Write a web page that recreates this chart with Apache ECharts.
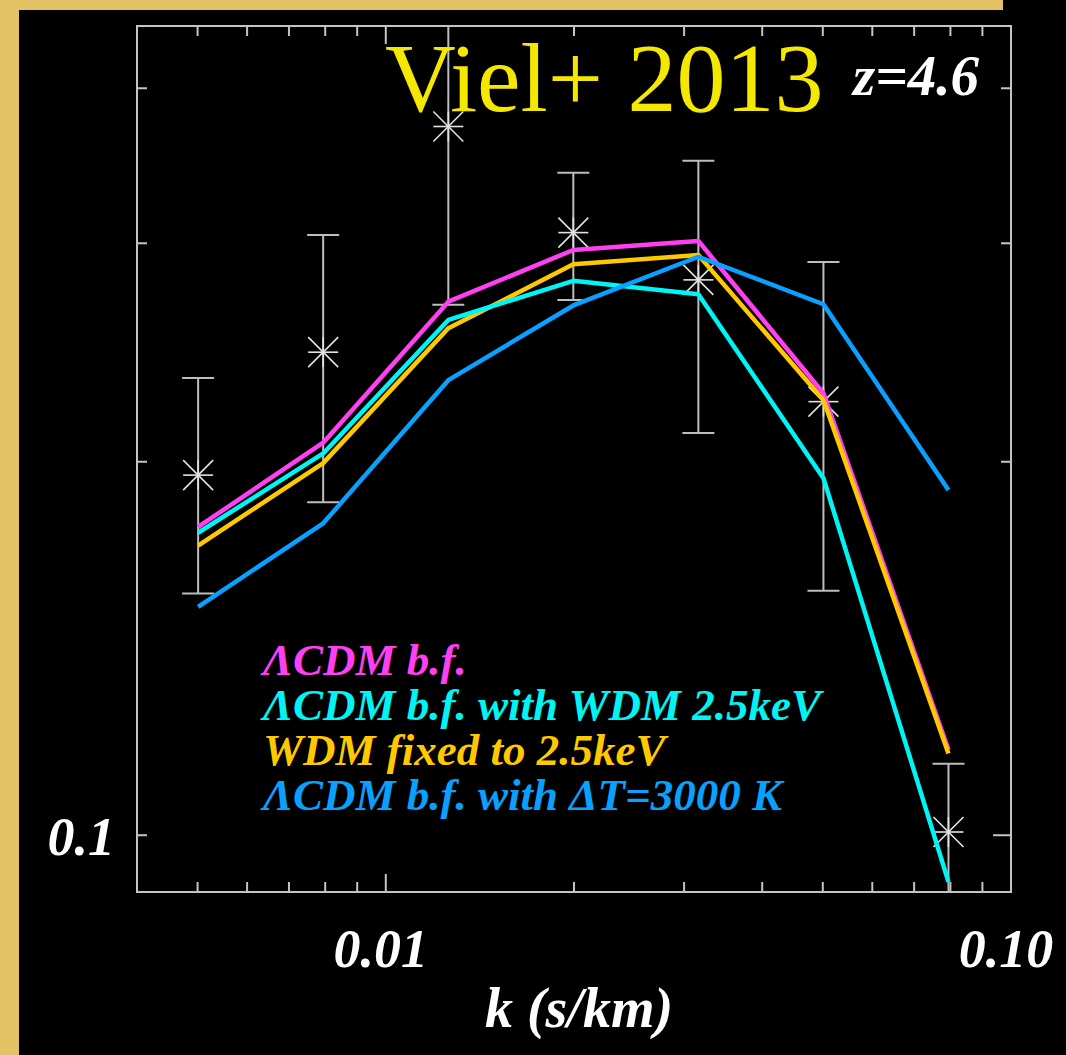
<!DOCTYPE html>
<html>
<head>
<meta charset="utf-8">
<script src="https://cdn.jsdelivr.net/npm/echarts@6/dist/echarts.min.js"></script>
<style>
  html, body { margin: 0; padding: 0; background: #000; }
  #chart { width: 1066px; height: 1055px; }
</style>
</head>
<body>
<div id="chart"></div>
<script>
// ---------------- data ----------------
const kBins      = [0.00501, 0.00794, 0.01259, 0.01995, 0.03162, 0.05012, 0.07943];
const dataFlux   = [0.1951, 0.2451, 0.3726, 0.3060, 0.2803, 0.2236, 0.1006];
const dataErr    = [0.0385, 0.0596, 0.1050, 0.0360, 0.0693, 0.0662, 0.0136];
const lcdmBf     = [0.1772, 0.2072, 0.2692, 0.2963, 0.3013, 0.2271, 0.1172];
const lcdmWdm    = [0.1753, 0.2031, 0.2602, 0.2798, 0.2729, 0.1940, 0.0917];
const wdmFixed   = [0.1712, 0.1995, 0.2562, 0.2885, 0.2935, 0.2243, 0.1164];
const lcdmDeltaT = [0.1528, 0.1784, 0.2327, 0.2673, 0.2926, 0.2679, 0.1898];

const seriesNames = ['ΛCDM b.f.', 'ΛCDM b.f. with WDM 2.5keV', 'WDM fixed to 2.5keV', 'ΛCDM b.f. with ΔT=3000 K'];
const xTicks      = [0.005, 0.006, 0.007, 0.008, 0.009, 0.01, 0.02, 0.03, 0.04, 0.05, 0.06, 0.07, 0.08, 0.09];
const xMajorTicks = [0.01];
const yTicks      = [0.1, 0.2, 0.3, 0.4];
const yMajorTicks = [0.1];
const xTickLabels = [[0.01, '0.01'], [0.1, '0.10']];
const yTickLabels = [[0.1, '0.1']];
const X_MIN = 0.004, X_MAX = 0.1, Y_MIN = 0.09, Y_MAX = 0.449;

const titleText = 'Viel+ 2013';
const zText = 'z=4.6';
const xTitle = 'k (s/km)';

// ---------------- styles ----------------
const C_MAG = '#ff40f0', C_CYAN = '#00f4f4', C_YEL = '#ffc800', C_BLUE = '#0aa0ff';
const GRAY = '#c4c4c4';
const SERIF = '"Liberation Serif", "Times New Roman", serif';

const zip = (xs, ys) => xs.map((x, i) => [x, ys[i]]);

const tickData = [];
xTicks.forEach(v => tickData.push([v, Y_MIN, xMajorTicks.includes(v) ? 1 : 0]));
yTicks.forEach(v => tickData.push([X_MIN, v, yMajorTicks.includes(v) ? 3 : 2]));

const chart = echarts.init(document.getElementById('chart'), null, { renderer: 'svg' });

function lineSeries(name, values, color, z) {
  return {
    name, type: 'line', data: zip(kBins, values), showSymbol: false, symbol: 'none',
    lineStyle: { color, width: 4.5 }, itemStyle: { color }, z, silent: true, animation: false
  };
}

const option = {
  backgroundColor: '#000',
  animation: false,
  grid: { left: 137, top: 26, width: 874, height: 866, show: true, borderColor: GRAY, borderWidth: 2, backgroundColor: 'transparent' },
  xAxis: { type: 'log', min: X_MIN, max: X_MAX, axisLine: { show: false }, axisTick: { show: false }, axisLabel: { show: false }, splitLine: { show: false } },
  yAxis: { type: 'log', min: Y_MIN, max: Y_MAX, axisLine: { show: false }, axisTick: { show: false }, axisLabel: { show: false }, splitLine: { show: false } },
  legend: {
    orient: 'vertical', left: 258, top: 637, padding: 0, itemGap: 0, itemWidth: 0, itemHeight: 0,
    icon: 'rect', selectedMode: false,
    textStyle: { fontFamily: SERIF, fontSize: 45, fontWeight: 'bold', fontStyle: 'italic', lineHeight: 45 },
    data: [
      { name: seriesNames[0], textStyle: { color: C_MAG } },
      { name: seriesNames[1], textStyle: { color: C_CYAN } },
      { name: seriesNames[2], textStyle: { color: C_YEL } },
      { name: seriesNames[3], textStyle: { color: C_BLUE } }
    ]
  },
  series: [
    {
      type: 'custom', name: 'ticks', data: tickData, silent: true, z: 1,
      renderItem(params, api) {
        const cs = params.coordSys;
        const kind = api.value(2);
        const children = [];
        const st = { stroke: GRAY, lineWidth: 2 };
        if (kind <= 1) {
          const px = api.coord([api.value(0), Y_MIN])[0];
          const len = kind === 1 ? 18 : 10;
          children.push({ type: 'line', shape: { x1: px, y1: cs.y + cs.height, x2: px, y2: cs.y + cs.height - len }, style: st });
          children.push({ type: 'line', shape: { x1: px, y1: cs.y, x2: px, y2: cs.y + len }, style: st });
        } else {
          const py = api.coord([X_MIN, api.value(1)])[1];
          const lenR = kind === 3 ? 18 : 10;
          children.push({ type: 'line', shape: { x1: cs.x, y1: py, x2: cs.x + 10, y2: py }, style: st });
          children.push({ type: 'line', shape: { x1: cs.x + cs.width, y1: py, x2: cs.x + cs.width - lenR, y2: py }, style: st });
        }
        return { type: 'group', children };
      }
    },
    {
      type: 'custom', name: 'data', silent: true, z: 2,
      data: kBins.map((k, i) => [k, dataFlux[i], dataErr[i]]),
      renderItem(params, api) {
        const k = api.value(0), v = api.value(1), e = api.value(2);
        const hiV = Math.min(v + e, Y_MAX), loV = Math.max(v - e, Y_MIN);
        const p = api.coord([k, v]);
        const pHi = api.coord([k, hiV]);
        const pLo = api.coord([k, loV]);
        const eb = { stroke: '#bdbdbd', lineWidth: 2 };
        const sb = { stroke: '#e2e2e2', lineWidth: 1.6 };
        const children = [
          { type: 'line', shape: { x1: p[0], y1: pLo[1], x2: p[0], y2: pHi[1] }, style: eb }
        ];
        const cw = 16;
        if (v + e < Y_MAX) children.push({ type: 'line', shape: { x1: p[0] - cw, y1: pHi[1], x2: p[0] + cw, y2: pHi[1] }, style: eb });
        if (v - e > Y_MIN) children.push({ type: 'line', shape: { x1: p[0] - cw, y1: pLo[1], x2: p[0] + cw, y2: pLo[1] }, style: eb });
        const s = 15;
        children.push({ type: 'line', shape: { x1: p[0] - s, y1: p[1], x2: p[0] + s, y2: p[1] }, style: sb });
        children.push({ type: 'line', shape: { x1: p[0], y1: p[1] - s, x2: p[0], y2: p[1] + s }, style: sb });
        children.push({ type: 'line', shape: { x1: p[0] - s, y1: p[1] - s, x2: p[0] + s, y2: p[1] + s }, style: sb });
        children.push({ type: 'line', shape: { x1: p[0] - s, y1: p[1] + s, x2: p[0] + s, y2: p[1] - s }, style: sb });
        return { type: 'group', children };
      }
    },
    lineSeries(seriesNames[0], lcdmBf, C_MAG, 3),
    lineSeries(seriesNames[2], wdmFixed, C_YEL, 4),
    lineSeries(seriesNames[1], lcdmWdm, C_CYAN, 5),
    lineSeries(seriesNames[3], lcdmDeltaT, C_BLUE, 6)
  ]
};
chart.setOption(option);

// ---------- text & decoration placed via the chart's own scales ----------
const labelFont = { fontFamily: SERIF, fontWeight: 'bold', fontStyle: 'italic', fill: '#ffffff' };
const graphics = [
  { type: 'rect', left: 0, top: 0, shape: { width: 19, height: 1055 }, style: { fill: '#e2c262' }, z: 100 },
  { type: 'rect', left: 0, top: 0, shape: { width: 1003, height: 10 }, style: { fill: '#e2c262' }, z: 100 }
];
xTickLabels.forEach(([v, t]) => {
  const p = chart.convertToPixel({ gridIndex: 0 }, [v, Y_MIN]);
  graphics.push({ type: 'text', x: p[0] - 5, y: p[1] + 57, z: 100,
    style: Object.assign({ text: t, fontSize: 54, align: 'center', verticalAlign: 'middle' }, labelFont) });
});
yTickLabels.forEach(([v, t]) => {
  const p = chart.convertToPixel({ gridIndex: 0 }, [X_MIN, v]);
  graphics.push({ type: 'text', x: p[0] - 22, y: p[1] + 2, z: 100,
    style: Object.assign({ text: t, fontSize: 54, align: 'right', verticalAlign: 'middle' }, labelFont) });
});
graphics.push({ type: 'text', x: 579, y: 1008, z: 100,
  style: Object.assign({ text: xTitle, fontSize: 56, align: 'center', verticalAlign: 'middle' }, labelFont) });
graphics.push({ type: 'text', x: 385, y: 78, z: 100,
  style: { text: titleText, fontFamily: SERIF, fontSize: 98, fill: '#f5e800', align: 'left', verticalAlign: 'middle' } });
graphics.push({ type: 'text', x: 853, y: 75, z: 100,
  style: Object.assign({ text: zText, fontSize: 57, align: 'left', verticalAlign: 'middle' }, labelFont) });
chart.setOption({ graphic: graphics });
</script>
</body>
</html>
